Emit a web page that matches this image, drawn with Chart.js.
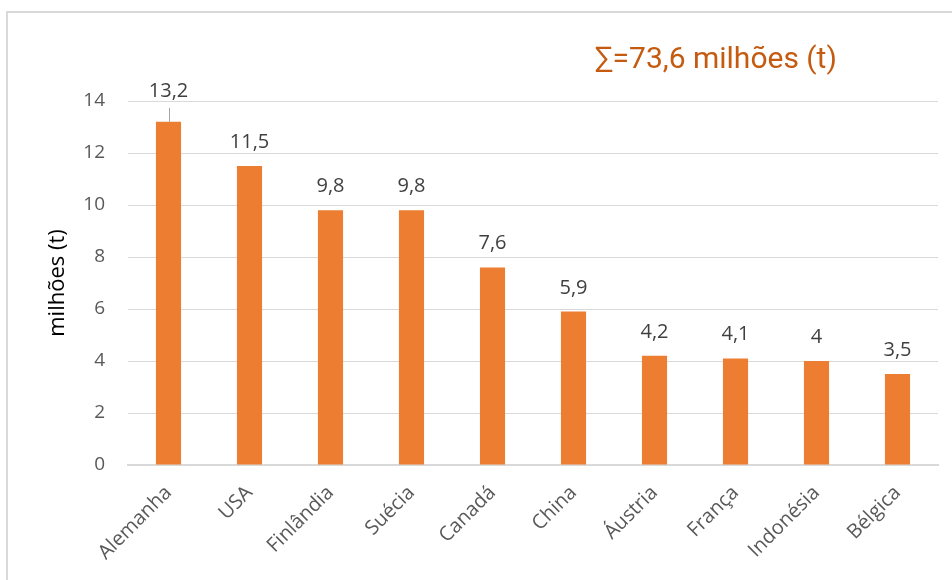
<!DOCTYPE html>
<html lang="pt">
<head>
<meta charset="utf-8">
<title>Produção por país</title>
<script src="https://cdn.jsdelivr.net/npm/chart.js@4"></script>
<style>
  html, body { margin: 0; padding: 0; background: #ffffff; }
  #wrap { position: relative; width: 952px; height: 580px; }
  canvas { display: block; }
</style>
</head>
<body>
<div id="wrap"><canvas id="chart" width="952" height="580"></canvas></div>
<script>
// Country names along the category axis
const countries = ['Alemanha', 'USA', 'Finlândia', 'Suécia', 'Canadá', 'China', 'Áustria', 'França', 'Indonésia', 'Bélgica'];
// Quantities in millions of tonnes
const quantities = [13.2, 11.5, 9.8, 9.8, 7.6, 5.9, 4.2, 4.1, 4.0, 3.5];
// Value-axis tick values
const yTicks = [0, 2, 4, 6, 8, 10, 12, 14];
// Headline text and axis title
const totalLabel = '∑=73,6 milhões (t)';
const yAxisTitle = 'milhões (t)';

const fmt = v => String(v).replace('.', ',');

// Outer frame of the chart object
const framePlugin = {
  id: 'frame',
  beforeDraw(chart) {
    const ctx = chart.ctx;
    ctx.save();
    ctx.fillStyle = '#ffffff';
    ctx.fillRect(0, 0, chart.width, chart.height);
    ctx.strokeStyle = '#d9d9d9';
    ctx.lineWidth = 2;
    ctx.beginPath();
    ctx.moveTo(7, chart.height + 2);
    ctx.lineTo(7, 12);
    ctx.lineTo(chart.width + 2, 12);
    ctx.stroke();
    ctx.restore();
  }
};

// Headline with the total
const totalPlugin = {
  id: 'total',
  afterDraw(chart) {
    const ctx = chart.ctx;
    ctx.save();
    ctx.fillStyle = '#c55a11';
    ctx.font = '30px Roboto, "Open Sans", sans-serif';
    ctx.textAlign = 'left';
    ctx.textBaseline = 'alphabetic';
    ctx.fillText(totalLabel, 595, 68);
    ctx.restore();
  }
};

// Value labels above the bars; the tallest one is lifted and tied to its bar with a leader
const valueLabelPlugin = {
  id: 'valueLabels',
  afterDatasetsDraw(chart, args, opts) {
    const ctx = chart.ctx;
    const meta = chart.getDatasetMeta(0);
    ctx.save();
    ctx.font = '20px "Open Sans", sans-serif';
    ctx.fillStyle = '#404040';
    ctx.textAlign = 'center';
    ctx.textBaseline = 'alphabetic';
    meta.data.forEach((bar, i) => {
      const v = chart.data.datasets[0].data[i];
      let y = bar.y - opts.gap;
      if (i === opts.liftedIndex) {
        y -= opts.lift;
        ctx.strokeStyle = '#a6a6a6';
        ctx.lineWidth = 1;
        ctx.beginPath();
        ctx.moveTo(Math.round(bar.x) + 0.5, y + 11);
        ctx.lineTo(Math.round(bar.x) + 0.5, bar.y);
        ctx.stroke();
      }
      ctx.fillText(fmt(v), bar.x, y);
    });
    ctx.restore();
  }
};

new Chart(document.getElementById('chart'), {
  type: 'bar',
  data: {
    labels: countries,
    datasets: [{
      data: quantities,
      backgroundColor: '#ed7d31',
      borderWidth: 0,
      categoryPercentage: 1,
      barPercentage: 0.31
    }]
  },
  options: {
    responsive: false,
    animation: false,
    devicePixelRatio: 1,
    layout: { padding: { top: 101, right: 14, left: 0, bottom: 0 } },
    plugins: {
      legend: { display: false },
      tooltip: { enabled: false },
      valueLabels: { gap: 18, lift: 7, liftedIndex: 0 }
    },
    scales: {
      x: {
        offset: true,
        grid: { display: false, drawTicks: false },
        border: { display: true, color: '#d9d9d9', width: 2 },
        ticks: {
          color: '#595959',
          font: { family: '"Open Sans", sans-serif', size: 20 },
          maxRotation: 45,
          minRotation: 45,
          padding: 16
        },
        afterFit(scale) { scale.height = 115; }
      },
      y: {
        min: 0,
        max: 14,
        afterBuildTicks(scale) { scale.ticks = yTicks.map(v => ({ value: v })); },
        grid: { color: '#d9d9d9', lineWidth: 1, drawTicks: false },
        border: { display: false },
        ticks: {
          color: '#595959',
          font: { family: '"Open Sans", sans-serif', size: 19 },
          padding: 23
        },
        title: {
          display: true,
          text: yAxisTitle,
          color: '#000000',
          font: { family: '"Open Sans", sans-serif', size: 22 },
          padding: { top: 45, bottom: 0 }
        },
        afterFit(scale) { scale.width = 128; }
      }
    }
  },
  plugins: [framePlugin, totalPlugin, valueLabelPlugin]
});
</script>
</body>
</html>
